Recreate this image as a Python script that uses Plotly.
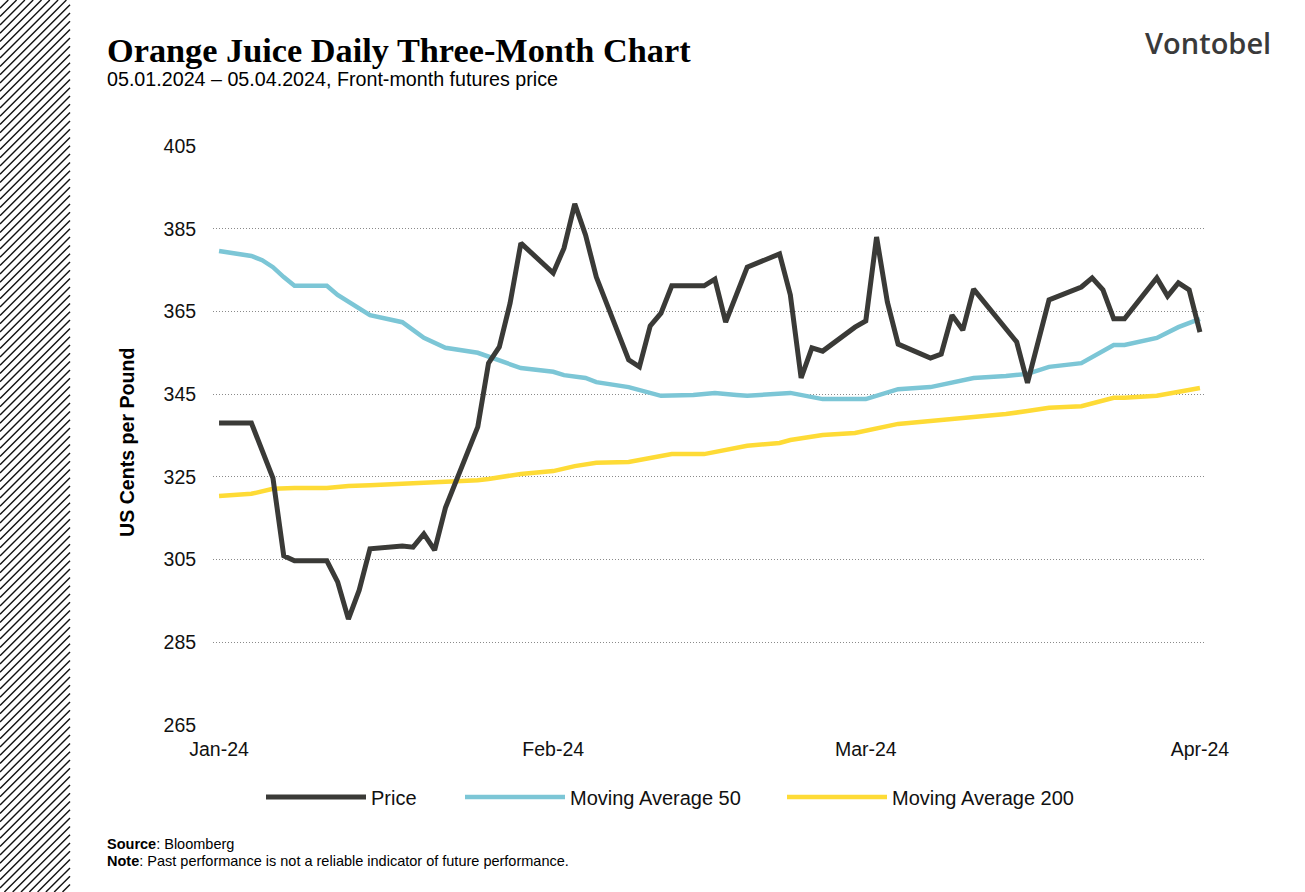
import plotly.graph_objects as go

# ---------------- data ----------------
price_dates = ["2024-01-01", "2024-01-04", "2024-01-06", "2024-01-07", "2024-01-08", "2024-01-11",
               "2024-01-12", "2024-01-13", "2024-01-14", "2024-01-15", "2024-01-18", "2024-01-19",
               "2024-01-20", "2024-01-21", "2024-01-22", "2024-01-23", "2024-01-24", "2024-01-25",
               "2024-01-26", "2024-01-27", "2024-01-28", "2024-01-29", "2024-02-01", "2024-02-02",
               "2024-02-03", "2024-02-04", "2024-02-05", "2024-02-08", "2024-02-09", "2024-02-10",
               "2024-02-11", "2024-02-12", "2024-02-15", "2024-02-16", "2024-02-17", "2024-02-18",
               "2024-02-19", "2024-02-22", "2024-02-23", "2024-02-24", "2024-02-25", "2024-02-26",
               "2024-02-29", "2024-03-01", "2024-03-02", "2024-03-03", "2024-03-04", "2024-03-07",
               "2024-03-08", "2024-03-09", "2024-03-10", "2024-03-11", "2024-03-14", "2024-03-15",
               "2024-03-16", "2024-03-18", "2024-03-21", "2024-03-22", "2024-03-23", "2024-03-24",
               "2024-03-25", "2024-03-28", "2024-03-29", "2024-03-30", "2024-03-31", "2024-04-01"]
price_values = [338.0, 338.0, 324.7, 305.9, 304.7, 304.7,
                299.6, 290.6, 297.6, 307.6, 308.3, 308.0,
                311.2, 307.3, 317.5, 323.8, 330.5, 337.1,
                352.5, 356.4, 367.0, 381.5, 374.3, 380.3,
                391.0, 383.5, 373.3, 353.3, 351.6, 361.5,
                364.6, 371.2, 371.2, 372.8, 362.4, 369.0,
                375.7, 378.9, 369.0, 348.9, 356.2, 355.4,
                361.2, 362.7, 383.0, 367.3, 357.1, 353.7,
                354.7, 364.1, 360.5, 370.4, 361.0, 357.6,
                347.7, 367.8, 370.9, 373.1, 370.2, 363.2,
                363.2, 373.1, 368.7, 371.9, 370.2, 360.0]

ma50_dates = ["2024-01-01", "2024-01-04", "2024-01-05", "2024-01-06", "2024-01-07", "2024-01-08",
              "2024-01-11", "2024-01-12", "2024-01-15", "2024-01-18", "2024-01-20", "2024-01-22",
              "2024-01-25", "2024-01-29", "2024-02-01", "2024-02-02", "2024-02-04", "2024-02-05",
              "2024-02-08", "2024-02-10", "2024-02-11", "2024-02-14", "2024-02-16", "2024-02-18",
              "2024-02-19", "2024-02-23", "2024-02-25", "2024-02-26", "2024-03-01", "2024-03-03",
              "2024-03-04", "2024-03-07", "2024-03-09", "2024-03-11", "2024-03-14", "2024-03-16",
              "2024-03-18", "2024-03-21", "2024-03-24", "2024-03-25", "2024-03-28", "2024-03-30",
              "2024-04-01"]
ma50_values = [379.6, 378.4, 377.4, 375.7, 373.3, 371.2,
               371.2, 369.0, 364.1, 362.4, 358.6, 356.2,
               355.0, 351.3, 350.4, 349.6, 348.9, 347.9,
               346.7, 345.3, 344.6, 344.8, 345.3, 344.8,
               344.6, 345.3, 344.2, 343.8, 343.8, 345.5,
               346.2, 346.7, 347.9, 348.9, 349.4, 349.9,
               351.6, 352.5, 356.9, 356.9, 358.6, 361.2,
               363.2]

ma200_dates = ["2024-01-01", "2024-01-04", "2024-01-06", "2024-01-08", "2024-01-11", "2024-01-13",
               "2024-01-15", "2024-01-18", "2024-01-19", "2024-01-21", "2024-01-23", "2024-01-25",
               "2024-01-26", "2024-01-29", "2024-02-01", "2024-02-03", "2024-02-05", "2024-02-08",
               "2024-02-12", "2024-02-15", "2024-02-19", "2024-02-22", "2024-02-23", "2024-02-26",
               "2024-02-29", "2024-03-02", "2024-03-04", "2024-03-07", "2024-03-10", "2024-03-11",
               "2024-03-14", "2024-03-16", "2024-03-18", "2024-03-21", "2024-03-24", "2024-03-25",
               "2024-03-28", "2024-04-01"]
ma200_values = [320.4, 320.9, 322.1, 322.3, 322.3, 322.8,
                323.0, 323.3, 323.5, 323.8, 324.0, 324.2,
                324.5, 325.7, 326.4, 327.6, 328.4, 328.6,
                330.5, 330.5, 332.5, 333.2, 333.9, 335.1,
                335.6, 336.8, 337.8, 338.5, 339.2, 339.7,
                340.2, 340.9, 341.7, 342.1, 344.1, 344.1,
                344.6, 346.5]

series_names = ["Price", "Moving Average 50", "Moving Average 200"]
series_colors = ["#3a3a37", "#7cc6d6", "#fedb36"]

x_tick_vals = ["2024-01-01", "2024-02-01", "2024-03-01", "2024-04-01"]
x_tick_text = ["Jan-24", "Feb-24", "Mar-24", "Apr-24"]
y_tick_vals = [265, 285, 305, 325, 345, 365, 385, 405]

# ---------------- layout geometry ----------------
W, H = 1305, 892
L, R, T, B = 213, 99, 146, 167
PW, PH = W - L - R, H - T - B


def px_to_paper(x, y):
    return (x - L) / PW, (H - B - y) / PH


font_sans = "Liberation Sans, Arial, sans-serif"

# legend placement (left edge of each entry, in pixels) and draw order (price on top)
legend_left_px = [261, 460, 782]
legend_y = px_to_paper(0, 797)[1]
legend_keys = ["legend", "legend2", "legend3"]

fig = go.Figure()
specs = [
    (ma50_dates, ma50_values, 1, 4.5),
    (ma200_dates, ma200_values, 2, 4.5),
    (price_dates, price_values, 0, 5),
]
for dates, vals, idx, w in specs:
    fig.add_trace(go.Scatter(x=dates, y=vals, name=series_names[idx], mode="lines",
                             line=dict(color=series_colors[idx], width=w, shape="linear"),
                             legend=legend_keys[idx], hoverinfo="x+y+name"))

legend_common = dict(orientation="h", xanchor="left", yanchor="middle", y=legend_y,
                     itemwidth=100, bgcolor="rgba(0,0,0,0)", borderwidth=0,
                     font=dict(size=20, family=font_sans, color="#111"),
                     itemclick=False, itemdoubleclick=False)
legend_layout = {}
for key, lpx in zip(legend_keys, legend_left_px):
    d = dict(legend_common)
    d["x"] = px_to_paper(lpx, 0)[0]
    legend_layout[key] = d

fig.update_layout(
    width=W, height=H,
    margin=dict(l=L, r=R, t=T, b=B, pad=0),
    paper_bgcolor="white", plot_bgcolor="white",
    font=dict(family=font_sans, color="#111111", size=19.5),
    showlegend=True,
    xaxis=dict(type="date", range=["2023-12-31 10:30", "2024-04-01 13:30"],
               tickvals=x_tick_vals, ticktext=x_tick_text, showgrid=False, zeroline=False,
               showline=False, ticks="outside", ticklen=7, tickcolor="rgba(0,0,0,0)",
               tickfont=dict(size=19.5, family=font_sans, color="#111")),
    yaxis=dict(range=[265, 405], tickvals=y_tick_vals, showgrid=True, gridcolor="#8a8a8a",
               gridwidth=1, griddash="1px,2px", zeroline=False, showline=False,
               ticks="outside", ticklen=12, tickcolor="rgba(0,0,0,0)",
               tickfont=dict(size=19.5, family=font_sans, color="#111")),
    **legend_layout,
)

anns = []
tx, ty = px_to_paper(105, 50)
anns.append(dict(text="<b>Orange Juice Daily Three-Month Chart</b>", x=tx, y=ty, xanchor="left",
                 yanchor="middle", font=dict(family="Liberation Serif, Times New Roman, serif",
                                             size=34.3, color="#000")))
sx, sy = px_to_paper(105, 79)
anns.append(dict(text="05.01.2024 – 05.04.2024, Front-month futures price", x=sx, y=sy,
                 xanchor="left", yanchor="middle", font=dict(family=font_sans, size=19.7, color="#000")))
vx, vy = px_to_paper(1273, 43)
anns.append(dict(text="Vontobel", x=vx, y=vy, xanchor="right", yanchor="middle",
                 font=dict(family="Open Sans, sans-serif", size=29, color="#3a3a3a", weight=600)))
ax_, ay_ = px_to_paper(127, 443)
anns.append(dict(text="<b>US Cents per Pound</b>", x=ax_, y=ay_, xanchor="center", yanchor="middle",
                 textangle=-90, font=dict(family=font_sans, size=19.6, color="#000")))
nx1, ny1 = px_to_paper(105, 844)
anns.append(dict(text="<b>Source</b>: Bloomberg", x=nx1, y=ny1, xanchor="left", yanchor="middle",
                 font=dict(family=font_sans, size=14.5, color="#000")))
nx2, ny2 = px_to_paper(105, 861)
anns.append(dict(text="<b>Note</b>: Past performance is not a reliable indicator of future performance.",
                 x=nx2, y=ny2, xanchor="left", yanchor="middle",
                 font=dict(family=font_sans, size=14.5, color="#000")))
for a in anns:
    a.update(xref="paper", yref="paper", showarrow=False)
fig.update_layout(annotations=anns)

# decorative hatched strip on the left edge
shapes = []
strip_w = 70
step = 8.3
c = 0.0
while c < H + strip_w:
    x0 = max(0.0, c - H)
    x1 = min(float(strip_w), c)
    if x1 > x0:
        p0 = px_to_paper(x0, c - x0)
        p1 = px_to_paper(x1, c - x1)
        shapes.append(dict(type="line", xref="paper", yref="paper", x0=p0[0], y0=p0[1],
                           x1=p1[0], y1=p1[1], line=dict(color="#111", width=1.4), layer="above"))
    c += step
fig.update_layout(shapes=shapes)

fig.write_html("out.html", config={"displayModeBar": False},
               post_script="document.body.style.margin='0';document.body.style.overflow='hidden';")
